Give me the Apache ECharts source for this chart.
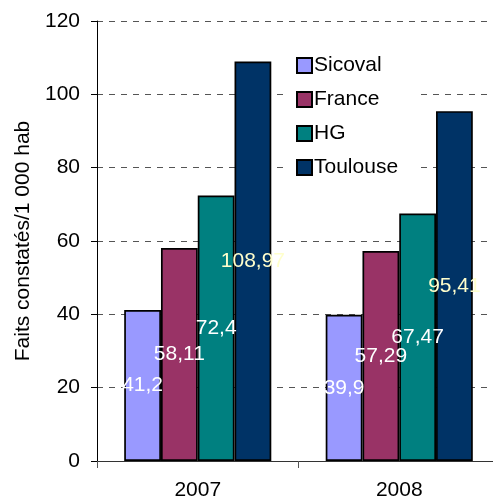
<!DOCTYPE html>
<html>
<head>
<meta charset="utf-8">
<script src="https://cdn.jsdelivr.net/npm/echarts@6/dist/echarts.min.js"></script>
<style>html,body{margin:0;padding:0;background:#fff}#c{width:493px;height:500px}</style>
</head>
<body>
<div id="c"></div>
<script>
const categories = ['2007', '2008'];
const sicoval = [41.2, 39.9];
const france = [58.11, 57.29];
const hg = [72.4, 67.47];
const toulouse = [108.97, 95.41];
const yTicks = [0, 20, 40, 60, 80, 100, 120];

const FONT = 'Liberation Sans, Arial, sans-serif';
const fmt = p => String(p.value).replace('.', ',');

function mk(name, data, color, labelColor) {
  return {
    name: name, type: 'bar', data: data,
    barGap: 0, barCategoryGap: '27%',
    itemStyle: { color: color, borderColor: '#000', borderWidth: 1.7 },
    label: { show: true, position: 'inside', color: labelColor, fontFamily: FONT, fontSize: 21, formatter: fmt },
    emphasis: { disabled: true }
  };
}

const chart = echarts.init(document.getElementById('c'));
chart.setOption({
  animation: false,
  textStyle: { fontFamily: FONT },
  grid: { left: 97, top: 21, height: 440, width: 403, containLabel: false, outerBoundsMode: 'none' },
  legend: {
    orient: 'vertical', left: 288, top: 47,
    padding: [8, 18, 8, 8],
    backgroundColor: '#fff',
    itemWidth: 15, itemHeight: 15, itemGap: 13,
    icon: 'rect',
    textStyle: { fontFamily: FONT, fontSize: 21, color: '#000', padding: [0, 0, 0, -3] },
    data: ['Sicoval', 'France', 'HG', 'Toulouse']
  },
  xAxis: {
    type: 'category', data: categories,
    axisLine: { lineStyle: { color: '#333', width: 1 } },
    axisTick: { show: true, length: 7, lineStyle: { color: '#555' } },
    axisLabel: { fontFamily: FONT, fontSize: 21, color: '#000', margin: 19 }
  },
  yAxis: {
    type: 'value', min: yTicks[0], max: yTicks[yTicks.length - 1], interval: 20,
    name: 'Faits constatés/1 000 hab', nameLocation: 'middle', nameGap: 60,
    nameTextStyle: { fontFamily: FONT, fontSize: 21, color: '#000' },
    axisLine: { show: true, lineStyle: { color: '#000', width: 1 } },
    axisTick: { show: true, length: 6, lineStyle: { color: '#000' } },
    axisLabel: { fontFamily: FONT, fontSize: 21, color: '#000', margin: 17 },
    splitLine: { show: true, lineStyle: { color: '#555', type: [6, 6], width: 1 } }
  },
  series: [
    mk('Sicoval', sicoval, '#9999FF', '#fff'),
    mk('France', france, '#993366', '#fff'),
    mk('HG', hg, '#008080', '#fff'),
    mk('Toulouse', toulouse, '#003366', '#FFFFCC')
  ]
});
</script>
</body>
</html>
